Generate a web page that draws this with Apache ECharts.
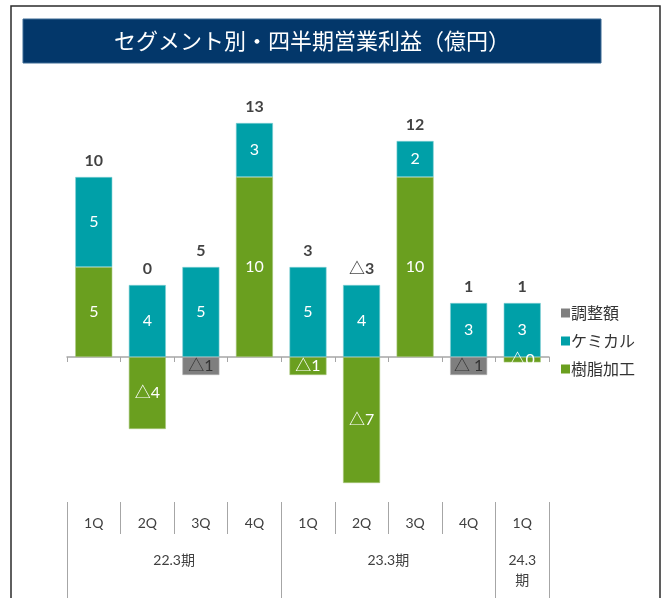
<!DOCTYPE html>
<html>
<head>
    <meta charset="utf-8">
    <title>セグメント別・四半期営業利益</title>
    <script src="https://cdn.jsdelivr.net/npm/echarts@6.0.0/dist/echarts.min.js"></script>
    <style>
        html, body { margin: 0; padding: 0; background: #fff; }
        #chart { width: 664px; height: 598px; }
    </style>
</head>
<body>
<div id="chart"></div>
<script type="text/javascript">
    // 四半期・期
    var quarters = ['1Q', '2Q', '3Q', '4Q', '1Q', '2Q', '3Q', '4Q', '1Q'];
    var fiscalYears = ['22.3期', '23.3期', '24.3\n期'];
    var yearSpans = [4, 4, 1];

    // セグメント別（億円）
    var resinValues = [5, -4, null, 10, -1, -7, 10, null, -0.3];
    var resinLabels = ['5', '△4', '', '10', '△1', '△7', '10', '', '△0'];
    var chemicalValues = [5, 4, 5, 3, 5, 4, 2, 3, 3];
    var adjustValues = [null, null, -1, null, null, null, null, -1, null];
    var adjustLabels = ['', '', '△1', '', '', '', '', '△ 1', ''];
    var totalLabels = ['10', '0', '5', '13', '3', '△3', '12', '1', '1'];

    var numFont = 'Lato, "Noto Sans CJK JP", sans-serif';
    var jpFont = '"Noto Sans CJK JP", sans-serif';

    // 表部分：半四半期きざみの目盛り（0, 0.5, 1, ... 9）
    var halfSteps = [];
    for (var h = 0; h <= quarters.length * 2; h++) halfSteps.push(String(h));

    // 期の区切り・中央（半きざみ単位）
    var yearBounds = [0];
    var yearCenters = [];
    yearSpans.forEach(function (s) {
        var start = yearBounds[yearBounds.length - 1];
        yearCenters.push(start + s);
        yearBounds.push(start + s * 2);
    });

    // 合計ラベルの位置（プラス側の積み上げ頂点）
    var totalTops = chemicalValues.map(function (c, i) {
        return c + Math.max(resinValues[i] || 0, 0);
    });

    var tableLine = { color: '#a6a6a6', width: 1 };

    var myChart = echarts.init(document.getElementById('chart'));
    myChart.setOption({
        animation: false,
        graphic: [
            {
                type: 'rect',
                shape: { x: 11, y: 6, width: 649, height: 620 },
                style: { fill: 'none', stroke: '#2b2b2b', lineWidth: 1.5 }
            },
            {
                type: 'rect',
                shape: { x: 23, y: 19, width: 578, height: 44 },
                style: { fill: '#03376a', stroke: '#3d6a94', lineWidth: 1 }
            },
            {
                type: 'text',
                x: 312,
                y: 41,
                style: {
                    text: 'セグメント別・四半期営業利益（億円）',
                    fill: '#ffffff',
                    font: '22px ' + jpFont,
                    align: 'center',
                    verticalAlign: 'middle'
                }
            }
        ],
        legend: {
            orient: 'vertical',
            left: 556,
            top: 299,
            itemWidth: 9,
            itemHeight: 9,
            itemGap: 10,
            icon: 'rect',
            data: ['調整額', 'ケミカル', '樹脂加工'],
            itemStyle: { borderWidth: 0 },
            textStyle: { fontSize: 16, lineHeight: 18, color: '#333', fontFamily: jpFont, padding: [0, 0, 0, -4] }
        },
        grid: [
            { left: 67, width: 482, top: 105, height: 396 },
            { left: 67, width: 482, top: 502, height: 32 },
            { left: 67, width: 482, top: 502, height: 96 }
        ],
        xAxis: [
            {
                type: 'category',
                gridIndex: 0,
                data: quarters,
                axisLine: { onZero: true, lineStyle: { color: '#a6a6a6', width: 1.5 } },
                axisTick: { show: true, length: 5, lineStyle: { color: '#a6a6a6' } },
                axisLabel: { show: false }
            },
            {
                // 四半期の行
                type: 'category',
                gridIndex: 1,
                data: halfSteps,
                boundaryGap: false,
                position: 'top',
                axisLine: { show: false },
                axisTick: { show: false },
                splitLine: {
                    show: true,
                    interval: function (idx) {
                        return idx % 2 === 0 && yearBounds.indexOf(idx) < 0;
                    },
                    lineStyle: tableLine
                },
                axisLabel: {
                    inside: true, margin: 14,
                    interval: function (idx) { return idx % 2 === 1; },
                    formatter: function (v, idx) { return quarters[(idx - 1) / 2]; },
                    fontSize: 14, color: '#404040', fontFamily: numFont
                }
            },
            {
                // 期の行
                type: 'category',
                gridIndex: 2,
                data: halfSteps,
                boundaryGap: false,
                position: 'top',
                axisLine: { show: false },
                axisTick: { show: false },
                splitLine: {
                    show: true,
                    interval: function (idx) { return yearBounds.indexOf(idx) >= 0; },
                    lineStyle: tableLine
                },
                axisLabel: {
                    inside: true, margin: 48,
                    interval: function (idx) { return yearCenters.indexOf(idx) >= 0; },
                    formatter: function (v, idx) { return fiscalYears[yearCenters.indexOf(idx)]; },
                    fontSize: 14, lineHeight: 20, color: '#404040', fontFamily: numFont
                }
            }
        ],
        yAxis: [
            { type: 'value', gridIndex: 0, min: -8, max: 14, show: false },
            { type: 'value', gridIndex: 1, min: 0, max: 1, show: false },
            { type: 'value', gridIndex: 2, min: 0, max: 1, show: false }
        ],
        series: [
            {
                name: '樹脂加工',
                type: 'bar',
                stack: 'seg',
                barWidth: 37,
                data: resinValues,
                itemStyle: { color: '#6a9f1f', borderColor: '#a8c87c', borderWidth: 0.6 },
                label: {
                    show: true, position: 'inside', color: '#fff', fontSize: 16, fontFamily: numFont,
                    formatter: function (p) { return resinLabels[p.dataIndex]; }
                }
            },
            {
                name: 'ケミカル',
                type: 'bar',
                stack: 'seg',
                barWidth: 37,
                data: chemicalValues,
                itemStyle: { color: '#00a0a8', borderColor: '#7fcfd3', borderWidth: 0.6 },
                label: { show: true, position: 'inside', color: '#fff', fontSize: 16, fontFamily: numFont }
            },
            {
                name: '調整額',
                type: 'bar',
                stack: 'seg',
                barWidth: 37,
                data: adjustValues,
                itemStyle: { color: '#7f7f7f', borderColor: '#b0b0b0', borderWidth: 0.6 },
                label: {
                    show: true, position: 'inside', color: '#333', fontSize: 16, fontFamily: numFont,
                    formatter: function (p) { return adjustLabels[p.dataIndex]; }
                }
            },
            {
                type: 'scatter',
                data: totalTops,
                symbolSize: 1,
                itemStyle: { color: 'rgba(0,0,0,0)' },
                silent: true,
                label: {
                    show: true, position: 'top', distance: 8,
                    color: '#111', fontSize: 16, fontWeight: 'bold', fontFamily: numFont,
                    formatter: function (p) { return totalLabels[p.dataIndex]; }
                }
            }
        ]
    });
</script>
</body>
</html>
